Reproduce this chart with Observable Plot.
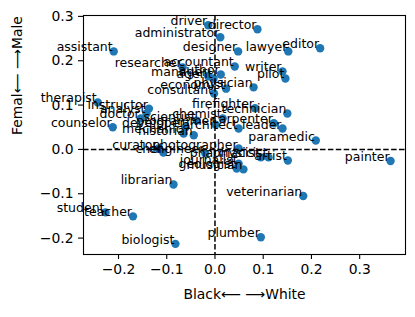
<!DOCTYPE html>
<html><head><meta charset="utf-8">
<script src="https://cdn.jsdelivr.net/npm/d3@7"></script>
<script src="https://cdn.jsdelivr.net/npm/@observablehq/plot@0.6"></script>
<style>body{margin:0;background:#fff}</style>
</head><body><div id="chart"></div>
<script>
const labels = ["driver","director","administrator","assistant","designer","lawyer","editor","researcher","accountant","manager","agent","author","writer","pilot","economist","physician","consultant","therapist","instructor","analyst","doctor","counselor","scientist","chemist","firefighter","technician","carpenter","leader","paramedic","developer","mechanic","historian","programmer","architect","curator","chef","engineer","photographer","pharmacist","physicist","artist","painter","journalist","geologist","musician","librarian","veterinarian","plumber","biologist","teacher","student"];
const xs = [-0.014,0.088,0.011,-0.210,0.048,0.152,0.218,-0.067,0.041,-0.014,-0.003,0.012,0.140,0.146,0.023,0.080,-0.002,-0.243,-0.137,-0.142,-0.154,-0.212,-0.038,0.016,0.083,0.150,0.122,0.140,0.209,-0.061,-0.065,-0.044,0.001,0.049,-0.117,-0.107,-0.020,0.049,0.095,0.111,0.151,0.364,0.049,0.045,0.059,-0.086,0.183,0.095,-0.082,-0.170,-0.227];
const ys = [0.280,0.271,0.253,0.221,0.221,0.221,0.228,0.185,0.187,0.165,0.160,0.169,0.176,0.160,0.137,0.140,0.126,0.106,0.092,0.081,0.070,0.050,0.065,0.070,0.093,0.081,0.059,0.047,0.020,0.050,0.036,0.032,0.056,0.047,0.002,-0.007,-0.009,0.002,-0.018,-0.018,-0.025,-0.026,-0.032,-0.043,-0.045,-0.079,-0.105,-0.198,-0.213,-0.151,-0.142];
const xTicks = [-0.2,-0.1,0.0,0.1,0.2,0.3];
const yTicks = [-0.2,-0.1,0.0,0.1,0.2,0.3];
const xLabel = "Black⟵ ⟶White";
const yLabel = "Femal⟵ ⟶Male";

const data = labels.map((label, i) => ({label, x: xs[i], y: ys[i]}));
const fmt = d3.format(".1f");
const chart = Plot.plot({
  width: 415, height: 317,
  marginLeft: 83, marginRight: 10, marginTop: 15, marginBottom: 63,
  style: {fontFamily: "DejaVu Sans", fontSize: "13.9px", color: "black", background: "white"},
  x: {domain: [-0.2726, 0.395]},
  y: {domain: [-0.237, 0.302]},
  marks: [
    Plot.dot(data, {x: "x", y: "y", r: 4.2, fill: "#1f77b4"}),
    Plot.text(data, {x: "x", y: "y", text: "label", textAnchor: "end", dx: -1, dy: -4, fontSize: 12.5, fill: "black"}),
    Plot.ruleX([0], {stroke: "black", strokeWidth: 1.5, strokeDasharray: "5.5,2.4"}),
    Plot.ruleY([0], {stroke: "black", strokeWidth: 1.5, strokeDasharray: "5.5,2.4"}),
    Plot.frame({stroke: "black", strokeWidth: 1.1}),
    Plot.axisX(xTicks, {tickSize: 5, tickPadding: 5, tickFormat: fmt, label: null, fontSize: 13.9, strokeWidth: 1.1}),
    Plot.axisY(yTicks, {tickSize: 5, tickPadding: 5, tickFormat: fmt, label: null, fontSize: 13.9, strokeWidth: 1.1}),
    Plot.text([xLabel], {text: d => d, frameAnchor: "bottom", dy: 44, fontSize: 13.9}),
    Plot.text([yLabel], {text: d => d, frameAnchor: "left", dx: -66, rotate: -90, fontSize: 13.9})
  ]
});
document.getElementById("chart").appendChild(chart);
</script>
</body></html>
